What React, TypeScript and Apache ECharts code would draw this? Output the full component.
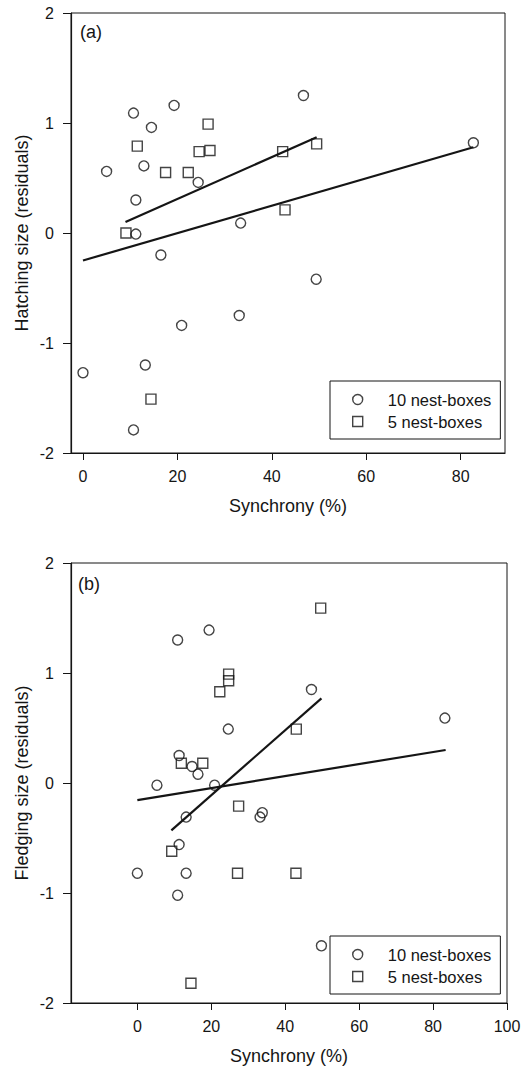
import React, { useEffect, useRef } from "react";
import * as echarts from "echarts";

// (a) Hatching size residuals vs synchrony
const hatch10: [number, number][] = [
  [5.0, 0.56], [10.7, 1.09], [19.3, 1.16], [14.5, 0.96], [12.9, 0.61], [11.2, 0.3],
  [11.2, -0.01], [24.4, 0.46], [46.7, 1.25], [33.4, 0.09], [16.5, -0.2], [82.7, 0.82],
  [49.4, -0.42], [20.9, -0.84], [33.1, -0.75], [0, -1.27], [13.2, -1.2], [10.7, -1.79],
];
const hatch5: [number, number][] = [
  [11.5, 0.79], [26.5, 0.99], [24.6, 0.74], [26.9, 0.75], [17.5, 0.55], [22.3, 0.55],
  [42.3, 0.74], [49.5, 0.81], [42.8, 0.21], [9.1, 0.0], [14.4, -1.51],
];
const hatch10Fit: [number, number][] = [[0, -0.25], [82.7, 0.78]];
const hatch5Fit: [number, number][] = [[9, 0.1], [49.5, 0.87]];

// (b) Fledging size residuals vs synchrony
const fledge10: [number, number][] = [
  [10.9, 1.3], [19.4, 1.39], [47.1, 0.85], [83.2, 0.59], [24.6, 0.49], [11.3, 0.25],
  [14.8, 0.15], [16.4, 0.08], [5.3, -0.02], [20.9, -0.02], [13.2, -0.31], [33.8, -0.27],
  [33.2, -0.31], [11.3, -0.56], [0, -0.82], [13.2, -0.82], [10.9, -1.02], [49.8, -1.48],
];
const fledge5: [number, number][] = [
  [49.6, 1.59], [24.7, 0.99], [24.7, 0.93], [22.3, 0.83], [43.0, 0.49], [17.7, 0.18],
  [11.9, 0.18], [27.4, -0.21], [9.3, -0.62], [27.1, -0.82], [42.9, -0.82], [14.5, -1.82],
];
const fledge10Fit: [number, number][] = [[0, -0.155], [83.4, 0.3]];
const fledge5Fit: [number, number][] = [[9.2, -0.43], [49.8, 0.77]];

const xTicksA = [0, 20, 40, 60, 80];
const xTicksB = [0, 20, 40, 60, 80, 100];
const seriesNames = ["10 nest-boxes", "5 nest-boxes"];
const seriesSymbols = ["circle", "rect"];
const xTitle = "Synchrony (%)";
const yTitleA = "Hatching size (residuals)";
const yTitleB = "Fledging size (residuals)";

const FONT = "'Liberation Sans', Arial, Helvetica, sans-serif";
const INK = "#151515";

function xAxisCfg(gridIndex: number, min: number, max: number, ticks: number[]) {
  return {
    type: "value",
    gridIndex,
    min,
    max,
    name: xTitle,
    nameLocation: "middle",
    nameGap: 44,
    nameMoveOverlap: false,
    nameTextStyle: { color: INK, fontSize: 18, fontFamily: FONT },
    axisLine: { show: true, onZero: false, lineStyle: { color: INK, width: 1.2 } },
    axisTick: { show: true, length: 7, customValues: ticks, lineStyle: { color: INK, width: 1 } },
    axisLabel: { show: true, customValues: ticks, margin: 15, color: INK, fontSize: 16, fontFamily: FONT },
    splitLine: { show: false },
  };
}

function yAxisCfg(gridIndex: number, name: string) {
  return {
    type: "value",
    gridIndex,
    min: -2,
    max: 2,
    interval: 1,
    name,
    nameLocation: "middle",
    nameGap: 40,
    nameMoveOverlap: false,
    nameTextStyle: { color: INK, fontSize: 18, fontFamily: FONT },
    axisLine: { show: true, onZero: false, lineStyle: { color: INK, width: 1.2 } },
    axisTick: { show: true, length: 8, lineStyle: { color: INK, width: 1 } },
    axisLabel: { show: true, margin: 17, color: INK, fontSize: 16, fontFamily: FONT },
    splitLine: { show: false },
  };
}

function scatter(name: string, symbol: string, idx: number, data: [number, number][]) {
  return {
    type: "scatter",
    name,
    xAxisIndex: idx,
    yAxisIndex: idx,
    symbol,
    symbolSize: 10,
    itemStyle: { color: "rgba(0,0,0,0)", borderColor: INK, borderWidth: 1.4 },
    data,
  };
}

function fit(idx: number, data: [number, number][]) {
  return {
    type: "line",
    name: "fit",
    xAxisIndex: idx,
    yAxisIndex: idx,
    symbol: "none",
    silent: true,
    lineStyle: { color: INK, width: 2.2 },
    data,
  };
}

function legendCfg(top: number) {
  return {
    orient: "vertical",
    left: 330,
    top,
    data: seriesNames.map((n, i) => ({ name: n, icon: seriesSymbols[i] })),
    itemWidth: 10,
    itemHeight: 10,
    itemGap: 5,
    padding: [10, 9, 9, 22],
    borderColor: INK,
    borderWidth: 1,
    backgroundColor: "#fff",
    selectedMode: false,
    itemStyle: { color: "rgba(0,0,0,0)", borderColor: INK, borderWidth: 1.4 },
    textStyle: { color: INK, fontSize: 16.5, fontFamily: FONT, lineHeight: 16, padding: [0, 0, 0, 20] },
  };
}

export default function App() {
  const ref = useRef<HTMLDivElement>(null);
  useEffect(() => {
    if (!ref.current) return;
    const chart = echarts.init(ref.current, null, { renderer: "svg" });
    chart.setOption({
      animation: false,
      backgroundColor: "#fff",
      textStyle: { fontFamily: FONT },
      grid: [
        { left: 71, top: 13, width: 434, height: 440, show: true, borderColor: INK, borderWidth: 1, containLabel: false, outerBoundsMode: "none" },
        { left: 71, top: 563, width: 436, height: 440, show: true, borderColor: INK, borderWidth: 1, containLabel: false, outerBoundsMode: "none" },
      ],
      xAxis: [xAxisCfg(0, -2.54, 89.4, xTicksA), xAxisCfg(1, -17.95, 100, xTicksB)],
      yAxis: [yAxisCfg(0, yTitleA), yAxisCfg(1, yTitleB)],
      legend: [legendCfg(381), legendCfg(936)],
      graphic: [
        { type: "text", left: 80, top: 23, style: { text: "(a)", fill: INK, font: `18px ${FONT}` } },
        { type: "text", left: 78, top: 575, style: { text: "(b)", fill: INK, font: `18px ${FONT}` } },
      ],
      series: [
        scatter(seriesNames[0], seriesSymbols[0], 0, hatch10),
        scatter(seriesNames[1], seriesSymbols[1], 0, hatch5),
        fit(0, hatch10Fit),
        fit(0, hatch5Fit),
        scatter(seriesNames[0], seriesSymbols[0], 1, fledge10),
        scatter(seriesNames[1], seriesSymbols[1], 1, fledge5),
        fit(1, fledge10Fit),
        fit(1, fledge5Fit),
      ],
    });
    return () => chart.dispose();
  }, []);
  return (
    <div
      ref={ref}
      style={{ position: "absolute", left: 0, top: 0, width: 525, height: 1073, background: "#fff" }}
    />
  );
}
